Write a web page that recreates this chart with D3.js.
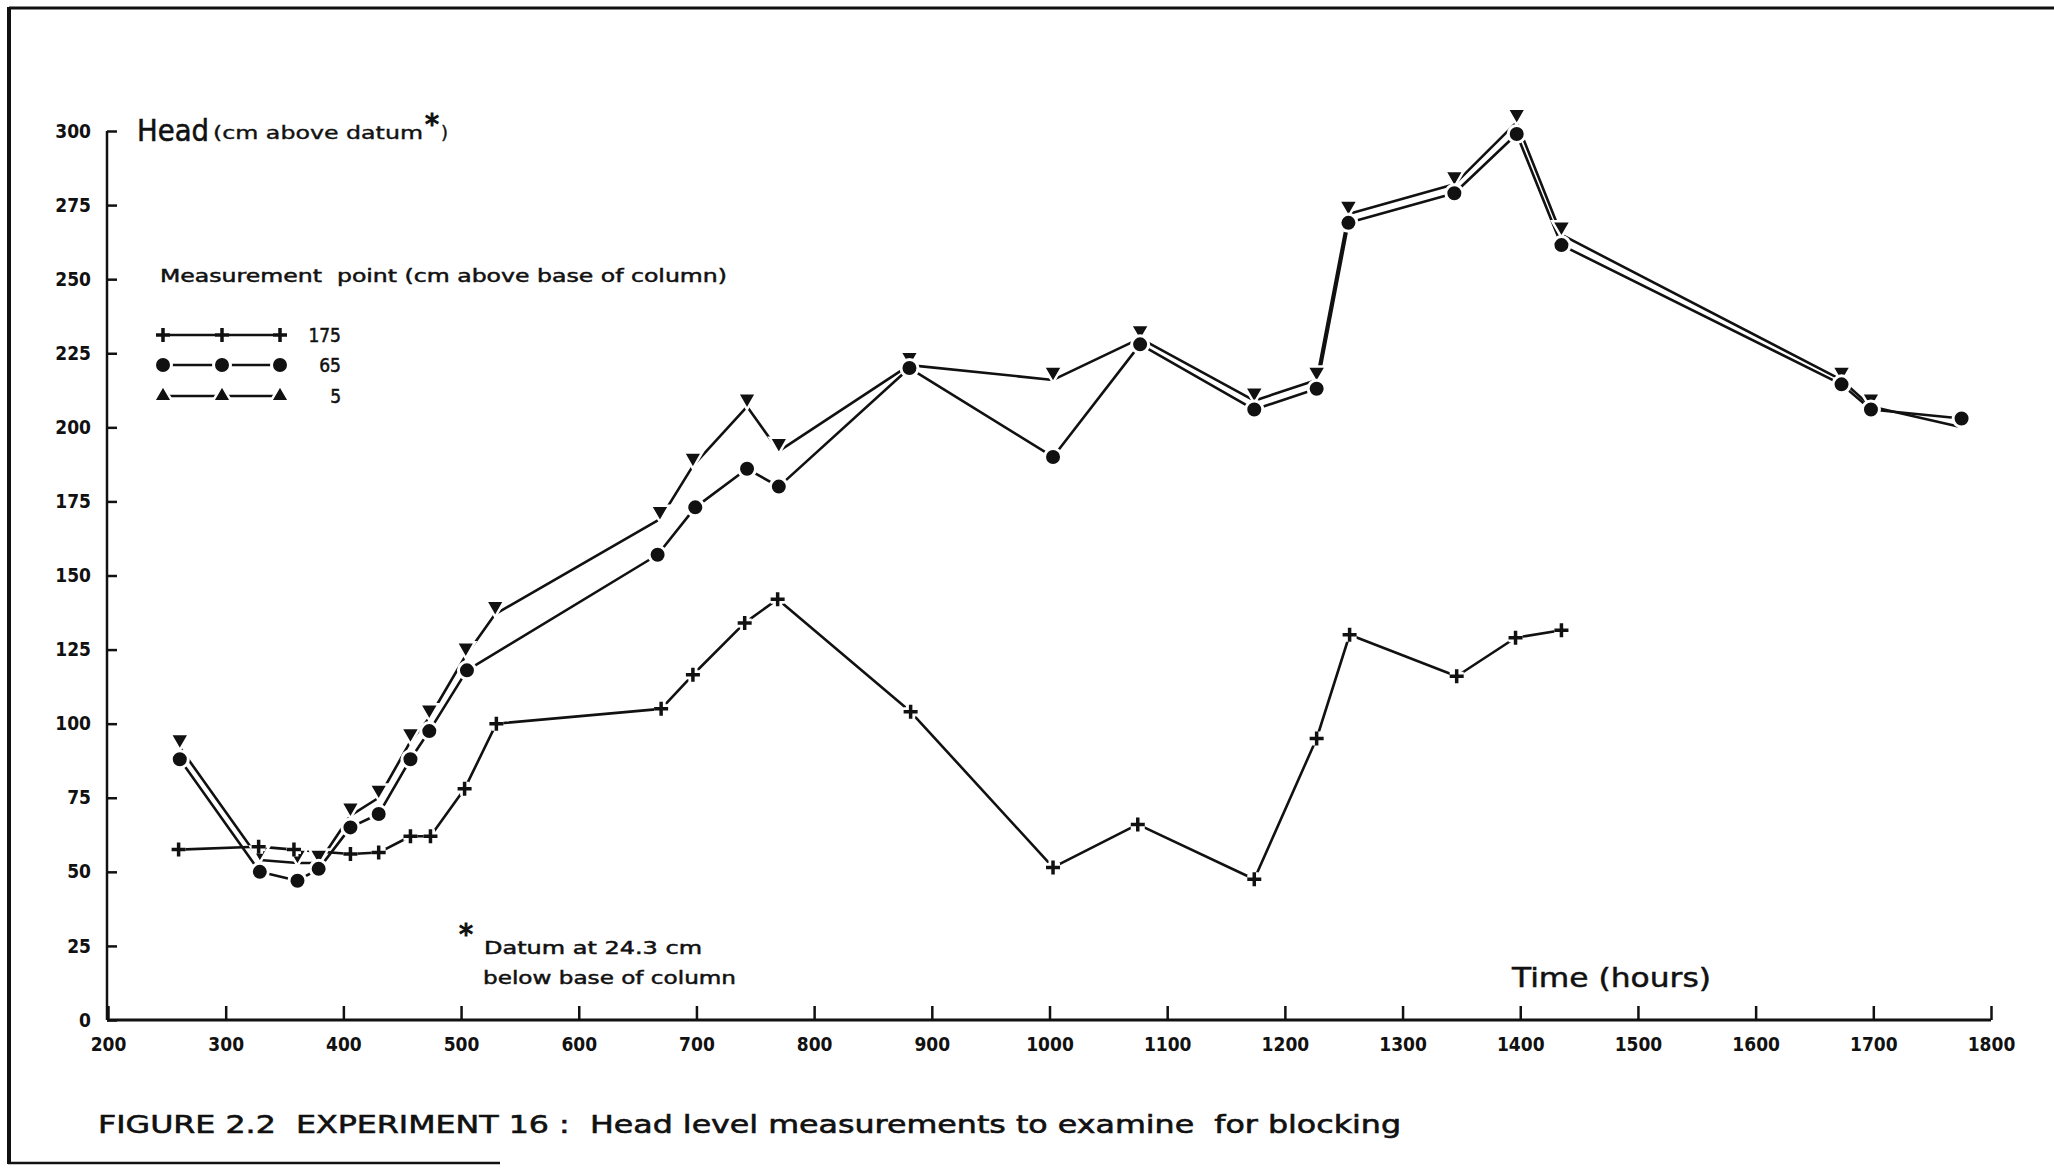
<!DOCTYPE html>
<html>
<head>
<meta charset="utf-8">
<script src="https://cdn.jsdelivr.net/npm/d3@7"></script>
<style>
  html, body { margin: 0; padding: 0; background: #fff; }
  svg { display: block; }
  text { font-family: "DejaVu Sans Condensed", "DejaVu Sans", sans-serif; fill: #111; white-space: pre; }
  text.ann { font-family: "DejaVu Sans", sans-serif; }
</style>
</head>
<body>
<svg id="chart" width="2054" height="1170"></svg>
<script>
// ---- Data ----
const xTicks = [200, 300, 400, 500, 600, 700, 800, 900, 1000, 1100, 1200, 1300, 1400, 1500, 1600, 1700, 1800];
const yTicks = [0, 25, 50, 75, 100, 125, 150, 175, 200, 225, 250, 275, 300];

// Measurement point 175 cm (plus)
const time175 = [260, 328, 358, 406, 430, 457, 474, 503, 530, 670, 697, 741, 769, 882, 1003, 1075, 1174, 1227, 1255, 1346, 1396, 1435];
const head175 = [57.5, 58.5, 57.5, 56, 56.5, 62, 62, 78, 100, 105, 116.5, 134, 142, 104, 51.5, 66, 47.5, 95, 130, 116, 129, 131.5];

// Measurement point 65 cm (circle)
const time65 = [261, 329, 361, 379, 406, 430, 457, 473, 505, 667, 699, 743, 770, 881, 1003, 1077, 1174, 1227, 1254, 1344, 1397, 1435, 1673, 1698, 1775];
const head65 = [88, 50, 47, 51, 65, 69.5, 88, 97.5, 118, 157, 173, 186, 180, 220, 190, 228, 206, 213, 269, 279, 299, 261.5, 214.5, 206, 203];

// Measurement point 5 cm (down triangle)
const time5 = [261, 329, 361, 379, 406, 430, 457, 473, 504, 529, 669, 697, 743, 770, 881, 1003, 1077, 1174, 1227, 1254, 1344, 1397, 1435, 1673, 1698, 1775];
const head5 = [92, 54, 53, 53, 69, 75, 94, 102, 123, 137, 169, 187, 207, 192, 221, 216, 230, 209, 216, 272, 282, 303, 265, 216, 207, 200];

const legendLabels = ["175", "65", "5"];

// ---- Layout ----
const svg = d3.select("#chart");
const x = d3.scaleLinear().domain([200, 1800]).range([108, 1991]);
const y = d3.scaleLinear().domain([0, 300]).range([1020, 131]);

// frame
svg.append("line").attr("x1", 9).attr("y1", 8).attr("x2", 2054).attr("y2", 8)
  .attr("stroke", "#111").attr("stroke-width", 3);
svg.append("line").attr("x1", 9).attr("y1", 7).attr("x2", 9).attr("y2", 1164)
  .attr("stroke", "#111").attr("stroke-width", 4);
svg.append("line").attr("x1", 8).attr("y1", 1163).attr("x2", 500).attr("y2", 1163)
  .attr("stroke", "#111").attr("stroke-width", 2.5);

// axes
const xAxis = d3.axisBottom(x).tickValues(xTicks).tickSize(0).tickPadding(18).tickFormat(d3.format("d"));
const gx = svg.append("g").attr("transform", `translate(0,${y(0)})`).call(xAxis);
gx.select(".domain").attr("stroke", "#111").attr("stroke-width", 3).attr("d", `M${x(200) - 1},0H${x(1800)}`);
gx.selectAll(".tick").append("line").attr("y1", 0).attr("y2", -14).attr("stroke", "#111").attr("stroke-width", 2.5);
gx.selectAll(".tick text").attr("font-size", 19).attr("font-weight", "bold").attr("fill", "#111");

const yAxis = d3.axisLeft(y).tickValues(yTicks).tickSize(0).tickPadding(16);
const gy = svg.append("g").attr("transform", `translate(${x(200) - 1},0)`).call(yAxis);
gy.select(".domain").attr("stroke", "#111").attr("stroke-width", 2.5).attr("d", `M0,${y(0)}V${y(300)}`);
gy.selectAll(".tick").append("line").attr("x1", 0).attr("x2", 10).attr("stroke", "#111").attr("stroke-width", 2.5);
gy.selectAll(".tick text").attr("font-size", 19).attr("font-weight", "bold").attr("fill", "#111");

// helper for stretched text matching the reference lettering width
function label(tx, ty, size, str, width, bold) {
  const t = svg.append("text").attr("class", "ann").attr("x", tx).attr("y", ty).attr("font-size", size).text(str);
  if (width) t.attr("textLength", width).attr("lengthAdjust", "spacingAndGlyphs");
  if (bold) t.attr("stroke", "#111").attr("stroke-width", bold);
  return t;
}

// axis titles
label(137, 141, 30, "Head", 72, 0.6);
label(213, 139, 18, "(cm above datum", 210, 0.4);
label(425, 134, 28, "*", null, 1.2);
label(441, 139, 18, ")", null, 0.4);

label(1512, 987, 27, "Time (hours)", 199, 0.5);

// datum note
label(459, 944, 28, "*", null, 1.2);
label(484, 954, 18, "Datum at 24.3 cm", 218, 0.5);
label(483, 984, 18, "below base of column", 253, 0.5);

// caption
label(98, 1133, 25, "FIGURE 2.2  EXPERIMENT 16 :  Head level measurements to examine  for blocking", 1303, 0.6);

// ---- markers ----
const plusPath = "M-7,0H7M0,-7V7";
function drawPlus(g, cx, cy) {
  g.append("path").attr("d", plusPath).attr("transform", `translate(${cx},${cy})`)
    .attr("stroke", "#fff").attr("stroke-width", 9).attr("fill", "none");
  g.append("path").attr("d", plusPath).attr("transform", `translate(${cx},${cy})`)
    .attr("stroke", "#111").attr("stroke-width", 3.5).attr("fill", "none");
}
function drawCircle(g, cx, cy) {
  g.append("circle").attr("cx", cx).attr("cy", cy).attr("r", 8.5)
    .attr("fill", "#111").attr("stroke", "#fff").attr("stroke-width", 3);
}
const triDown = d3.symbol().type(d3.symbolTriangle).size(150);
function drawTriDown(g, cx, cy) {
  g.append("path").attr("d", triDown()).attr("transform", `translate(${cx},${cy - 8}) rotate(180)`)
    .attr("fill", "#111").attr("stroke", "#fff").attr("stroke-width", 2.5);
}
function drawTriUp(g, cx, cy) {
  g.append("path").attr("d", triDown()).attr("transform", `translate(${cx},${cy})`)
    .attr("fill", "#111").attr("stroke", "#fff").attr("stroke-width", 2.5);
}

const line = d3.line().x(d => x(d[0])).y(d => y(d[1]));
const data175 = time175.map((t, i) => [t, head175[i]]);
const data65 = time65.map((t, i) => [t, head65[i]]);
const data5 = time5.map((t, i) => [t, head5[i]]);

const gLines = svg.append("g");
[data5, data65, data175].forEach(d => {
  gLines.append("path").datum(d).attr("d", line).attr("fill", "none")
    .attr("stroke", "#111").attr("stroke-width", 2.6).attr("stroke-linejoin", "round");
});

const gMarks = svg.append("g");
data5.forEach(d => drawTriDown(gMarks, x(d[0]), y(d[1])));
data65.forEach(d => drawCircle(gMarks, x(d[0]), y(d[1])));
data175.forEach(d => drawPlus(gMarks, x(d[0]), y(d[1])));

// ---- legend ----
label(160, 282, 18, "Measurement  point (cm above base of column)", 567, 0.5);
const legX = [163, 222, 280];
const legY = [335, 365, 396];
const drawers = [drawPlus, drawCircle, drawTriUp];
legendLabels.forEach((lab, i) => {
  const g = svg.append("g");
  g.append("line").attr("x1", legX[0]).attr("x2", legX[2]).attr("y1", legY[i]).attr("y2", legY[i])
    .attr("stroke", "#111").attr("stroke-width", 2.6);
  legX.forEach(lx => drawers[i](g, lx, legY[i]));
  g.append("text").attr("x", 341).attr("y", legY[i] + 7).attr("font-size", 19)
    .attr("stroke", "#111").attr("stroke-width", 0.5)
    .attr("text-anchor", "end").text(lab);
});
</script>
</body>
</html>
